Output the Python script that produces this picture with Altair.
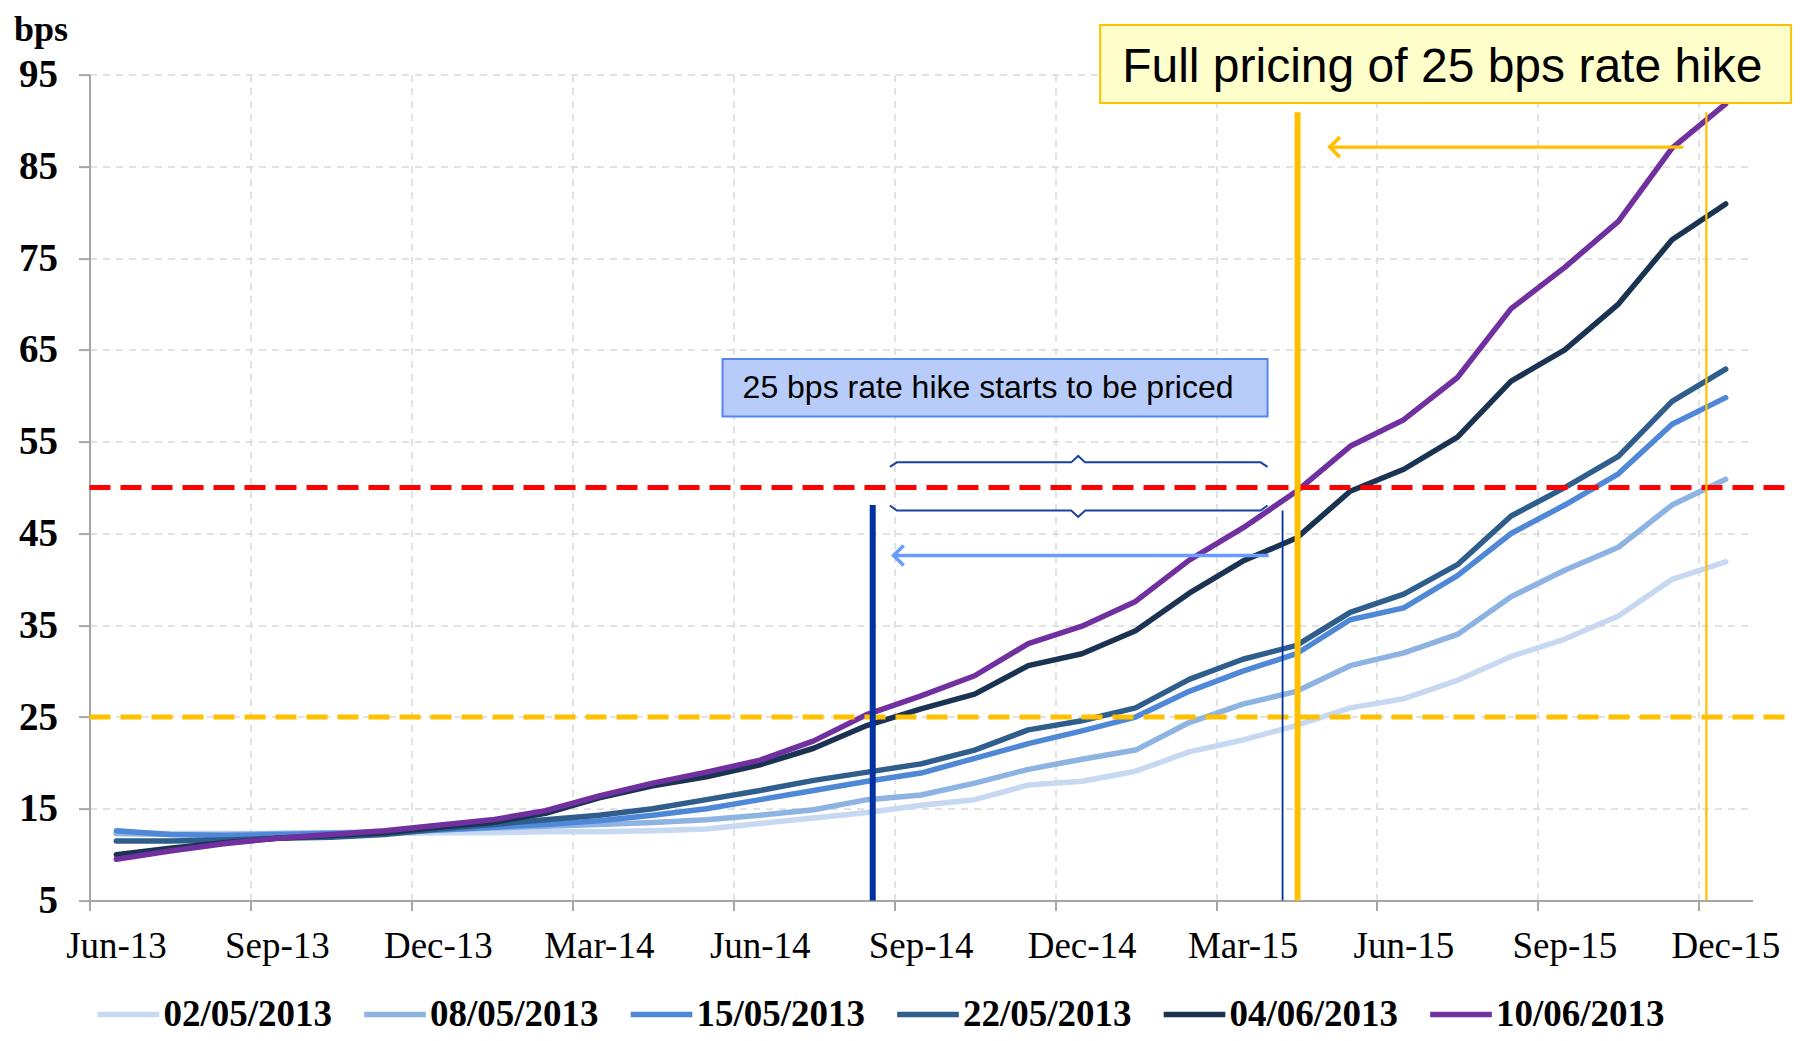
import altair as alt
import pandas as pd

# ---------------- data ----------------
months = ["Jun-13", "Jul-13", "Aug-13", "Sep-13", "Oct-13", "Nov-13", "Dec-13",
          "Jan-14", "Feb-14", "Mar-14", "Apr-14", "May-14", "Jun-14", "Jul-14",
          "Aug-14", "Sep-14", "Oct-14", "Nov-14", "Dec-14", "Jan-15", "Feb-15",
          "Mar-15", "Apr-15", "May-15", "Jun-15", "Jul-15", "Aug-15", "Sep-15",
          "Oct-15", "Nov-15", "Dec-15"]
tick_labels = ["Jun-13", "Sep-13", "Dec-13", "Mar-14", "Jun-14", "Sep-14",
               "Dec-14", "Mar-15", "Jun-15", "Sep-15", "Dec-15"]
y_ticks = [5, 15, 25, 35, 45, 55, 65, 75, 85, 95]

series_names = ["02/05/2013", "08/05/2013", "15/05/2013", "22/05/2013",
                "04/06/2013", "10/06/2013"]
s_0205 = [12.4, 12.3, 12.3, 12.3, 12.3, 12.3, 12.4, 12.4, 12.5, 12.5, 12.6, 12.8,
          13.4, 14.0, 14.6, 15.4, 16.0, 17.6, 18.0, 19.1, 21.2, 22.5, 24.1, 26.0,
          27.0, 29.0, 31.6, 33.5, 36.0, 40.0, 41.9]
s_0805 = [12.3, 12.2, 12.2, 12.3, 12.4, 12.5, 12.7, 12.9, 13.1, 13.3, 13.5, 13.8,
          14.3, 14.9, 16.0, 16.5, 17.8, 19.3, 20.4, 21.4, 24.4, 26.4, 27.8, 30.6,
          32.0, 34.0, 38.1, 41.0, 43.5, 48.1, 50.9]
s_1505 = [12.6, 12.2, 12.1, 12.2, 12.3, 12.3, 12.7, 13.0, 13.3, 13.7, 14.3, 15.0,
          16.0, 17.0, 18.0, 18.9, 20.5, 22.1, 23.5, 25.0, 27.8, 30.0, 31.9, 35.6,
          36.9, 40.4, 45.0, 48.1, 51.5, 56.9, 59.8]
s_2205 = [11.5, 11.5, 11.6, 11.8, 11.9, 12.2, 12.8, 13.3, 13.8, 14.3, 15.0, 16.0,
          17.0, 18.1, 19.0, 19.9, 21.4, 23.6, 24.6, 26.0, 29.1, 31.3, 32.8, 36.4,
          38.4, 41.6, 46.9, 50.0, 53.4, 59.4, 62.9]
s_0406 = [10.0, 10.7, 11.3, 11.8, 12.1, 12.4, 13.0, 13.5, 14.5, 16.2, 17.5, 18.5,
          19.8, 21.6, 24.1, 25.9, 27.5, 30.6, 31.9, 34.4, 38.5, 42.0, 44.5, 49.6,
          52.0, 55.5, 61.6, 65.0, 70.0, 77.0, 80.9]
s_1006 = [9.5, 10.4, 11.2, 11.8, 12.2, 12.6, 13.2, 13.8, 14.8, 16.4, 17.8, 19.0,
          20.3, 22.4, 25.3, 27.3, 29.5, 33.0, 34.9, 37.6, 42.1, 45.6, 49.6, 54.5,
          57.4, 62.0, 69.5, 74.0, 79.0, 87.0, 91.8]
series_values = [s_0205, s_0805, s_1505, s_2205, s_0406, s_1006]
series_colors = ["#c6d9f1", "#8db3e2", "#4f88d6", "#2f5d8c", "#1a3352", "#7030a0"]

# threshold lines (bps)
h_levels = [50, 25]
h_colors = ["#ff0000", "#ffc000"]
h_x_start = [-0.5, -0.5]
h_x_end = [31.2, 31.2]

# vertical markers (month index, top value)
v_x = [14.1, 21.74, 22.02, 29.64]
v_top = [48.1, 47.5, 90.9, 90.9]
v_colors = ["#0033a0", "#0033a0", "#ffc000", "#ffc000"]
v_widths = [6, 1.8, 6, 2.2]

# arrows (shaft from -> to, at level)
arrow_from = [21.48, 29.21]
arrow_to = [14.49, 22.62]
arrow_level = [42.6, 87.1]
arrow_colors = ["#6a9bff", "#ffc000"]

# braces
brace_top_x = [14.42, 14.55, 17.8, 17.93, 18.06, 21.33, 21.46]
brace_top_y = [52.25, 52.75, 52.75, 53.45, 52.75, 52.75, 52.25]
brace_bot_x = [14.42, 14.55, 17.8, 17.93, 18.06, 21.33, 21.46]
brace_bot_y = [48.05, 47.5, 47.5, 46.8, 47.5, 47.5, 48.05]

# text boxes
box_text = ["25 bps rate hike starts to be priced", "Full pricing of 25 bps rate hike"]
box_x1 = [11.3, 18.34]
box_x2 = [21.46, 31.22]
box_y1 = [57.75, 91.9]
box_y2 = [64.0, 100.4]
box_fill = ["#b8ccfa", "#ffffcc"]
box_stroke = ["#5585f0", "#ffc000"]
text_x = [16.25, 18.75]
text_y = [60.85, 95.75]
text_size = [32, 48]
text_align = ["center", "left"]

# ---------------- tables ----------------
rows = []
for name, vals in zip(series_names, series_values):
    for i, v in enumerate(vals):
        rows.append({"idx": i, "month": months[i], "series": name, "bps": v})
df = pd.DataFrame(rows)

hdf = pd.DataFrame({"x": h_x_start, "x2": h_x_end, "y": h_levels, "c": h_colors})
vdf = pd.DataFrame({"x": v_x, "y": v_top, "y2": [5] * len(v_x), "c": v_colors, "w": v_widths})
adf = pd.DataFrame({"x": arrow_from, "x2": arrow_to, "y": arrow_level, "c": arrow_colors})
bdf = pd.DataFrame({
    "x": brace_top_x + brace_bot_x,
    "y": brace_top_y + brace_bot_y,
    "g": ["top"] * len(brace_top_x) + ["bot"] * len(brace_bot_x),
    "o": list(range(len(brace_top_x))) + list(range(len(brace_bot_x))),
})
boxdf = pd.DataFrame({"x": box_x1, "x2": box_x2, "y": box_y1, "y2": box_y2,
                      "f": box_fill, "s": box_stroke})

W, H = 1663, 826
xs = alt.Scale(domain=[-0.5, 30.5], nice=False, zero=False)
ys = alt.Scale(domain=[5, 95], nice=False, zero=False)

label_arr = "[" + ",".join("'" + t + "'" for t in tick_labels) + "]"
x_axis = alt.Axis(
    values=[-0.5 + 3 * k for k in range(len(tick_labels))],
    labelExpr=label_arr + "[round((datum.value + 0.5) / 3)]",
    title=None, labelOffset=26.5, labelFlush=False, labelOverlap=False,
    labelFont="Liberation Serif", labelFontSize=37, labelColor="#000000",
    labelPadding=18, tickSize=10, tickWidth=2, tickColor="#a6a6a6",
    domainColor="#a6a6a6", domainWidth=2,
    grid=True, gridColor="#d9d9d9", gridDash=[7, 6], gridWidth=1.5,
)
y_axis = alt.Axis(
    values=y_ticks, title="bps", titleAngle=0, titleX=-76, titleY=-34,
    titleAlign="left", titleBaseline="alphabetic", titleFont="Liberation Serif",
    titleFontSize=36, titleFontWeight="bold", titleColor="#000000",
    labelFont="Liberation Serif", labelFontSize=39, labelFontWeight="bold",
    labelColor="#000000", labelPadding=21, tickSize=11, tickWidth=2,
    tickColor="#a6a6a6", domainColor="#a6a6a6", domainWidth=2,
    grid=True, gridColor="#d9d9d9", gridDash=[7, 6], gridWidth=1.5,
)


def X(field):
    return alt.X(field, scale=xs, axis=x_axis)


def Y(field):
    return alt.Y(field, scale=ys, axis=y_axis)


lines = alt.Chart(df).mark_line(strokeWidth=5.5, strokeCap="round", strokeJoin="round").encode(
    x=X("idx:Q"),
    y=Y("bps:Q"),
    color=alt.Color("series:N", scale=alt.Scale(domain=series_names, range=series_colors),
                    legend=alt.Legend(
                        title=None, orient="none", legendX=5, legendY=906,
                        direction="horizontal", columns=6, symbolType="stroke",
                        symbolSize=3800, symbolStrokeWidth=5.5, labelFont="Liberation Serif",
                        labelFontSize=37, labelFontWeight="bold", labelColor="#000000",
                        labelOffset=1, columnPadding=20.5, labelLimit=400)),
    order="idx:Q",
)

hrules = alt.Chart(hdf).mark_rule(strokeWidth=5, strokeDash=[21, 10]).encode(
    x=X("x:Q"), x2="x2:Q",
    y=Y("y:Q"),
    color=alt.Color("c:N", scale=None),
)

vrules = alt.Chart(vdf).mark_rule().encode(
    x=X("x:Q"),
    y=Y("y:Q"), y2="y2:Q",
    color=alt.Color("c:N", scale=None),
    size=alt.Size("w:Q", scale=None),
)

braces = alt.Chart(bdf).mark_line(strokeWidth=2, color="#1a3f9c").encode(
    x=X("x:Q"),
    y=Y("y:Q"),
    detail="g:N", order="o:Q",
)

shafts = alt.Chart(adf).mark_rule(strokeWidth=3.4).encode(
    x=X("x:Q"), x2="x2:Q",
    y=Y("y:Q"),
    color=alt.Color("c:N", scale=None),
)
heads = alt.Chart(adf).mark_point(shape="M1,-1L0,0L1,1", filled=False, size=400,
                                  strokeWidth=3.6, opacity=1).encode(
    x=X("x2:Q"),
    y=Y("y:Q"),
    color=alt.Color("c:N", scale=None),
)

boxes = alt.Chart(boxdf).mark_rect(strokeWidth=2).encode(
    x=X("x:Q"), x2="x2:Q",
    y=Y("y:Q"), y2="y2:Q",
    fill=alt.Fill("f:N", scale=None),
    stroke=alt.Stroke("s:N", scale=None),
)

text_layers = []
for t, tx, ty, sz, al in zip(box_text, text_x, text_y, text_size, text_align):
    tdf = pd.DataFrame({"x": [tx], "y": [ty], "t": [t]})
    text_layers.append(
        alt.Chart(tdf).mark_text(font="Liberation Sans", fontSize=sz, align=al,
                                 baseline="middle", color="#000000").encode(
            x=X("x:Q"),
            y=Y("y:Q"),
            text="t:N",
        )
    )

chart = alt.layer(lines, hrules, vrules, braces, shafts, heads, boxes, *text_layers).properties(
    width=W, height=H,
    padding={"left": 81.5, "top": 66.6, "right": 39.5, "bottom": 132.4},
    autosize=alt.AutoSizeParams(type="none"),
    background="#ffffff",
).configure_view(stroke=None)

chart.save("out.html", embed_options={"renderer": "svg", "actions": False})
